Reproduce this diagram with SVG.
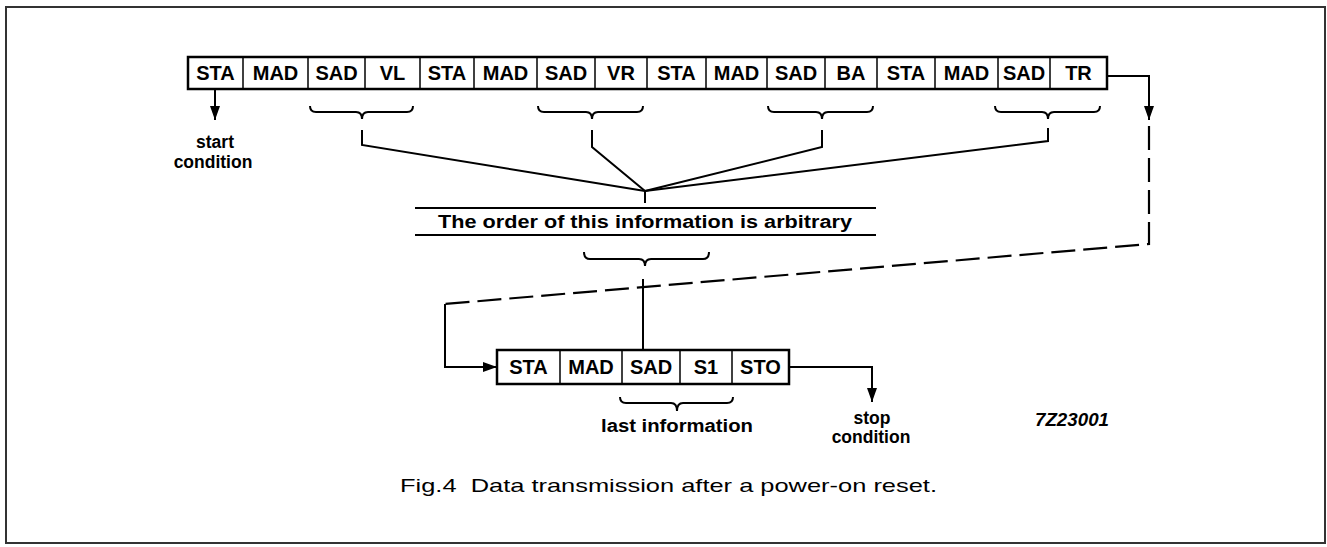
<svg xmlns="http://www.w3.org/2000/svg" width="1327" height="547" viewBox="0 0 1327 547">
<defs>
<style>
.frame{fill:none;stroke:#333;stroke-width:2}
.box{fill:#fff;stroke:#000;stroke-width:2.5}
.div{stroke:#000;stroke-width:1.5}
.cell{font-family:"Liberation Sans",Arial,sans-serif;font-weight:bold;font-size:20px;text-anchor:middle;fill:#000}
.lbl{font-family:"Liberation Sans",Arial,sans-serif;font-weight:bold;font-size:17.5px;text-anchor:middle;fill:#000}
.ln{fill:none;stroke:#000;stroke-width:2}
.dash{fill:none;stroke:#000;stroke-width:2.2;stroke-dasharray:24 8}
.cap{font-family:"Liberation Sans",Arial,sans-serif;font-size:19px;fill:#000}
</style>
<marker id="ahL" viewBox="0 0 14 10" refX="14" refY="5" markerWidth="14" markerHeight="10" markerUnits="userSpaceOnUse" orient="auto">
<path d="M0,0 L14,5 L0,10 z" fill="#000"/>
</marker>
</defs>
<rect class="frame" x="6" y="7" width="1319" height="536"/>

<g id="top-sequence">
<rect class="box" x="188" y="57" width="919" height="32"/>
<g class="div">
<line x1="243" y1="57" x2="243" y2="89"/><line x1="308" y1="57" x2="308" y2="89"/>
<line x1="365" y1="57" x2="365" y2="89"/><line x1="420" y1="57" x2="420" y2="89"/>
<line x1="474" y1="57" x2="474" y2="89"/><line x1="537" y1="57" x2="537" y2="89"/>
<line x1="595" y1="57" x2="595" y2="89"/><line x1="647" y1="57" x2="647" y2="89"/>
<line x1="706" y1="57" x2="706" y2="89"/><line x1="767" y1="57" x2="767" y2="89"/>
<line x1="825" y1="57" x2="825" y2="89"/><line x1="877" y1="57" x2="877" y2="89"/>
<line x1="935" y1="57" x2="935" y2="89"/><line x1="998" y1="57" x2="998" y2="89"/>
<line x1="1050" y1="57" x2="1050" y2="89"/>
</g>
<text class="cell" x="215.5" y="80">STA</text>
<text class="cell" x="275.5" y="80">MAD</text>
<text class="cell" x="336.5" y="80">SAD</text>
<text class="cell" x="392.5" y="80">VL</text>
<text class="cell" x="447" y="80">STA</text>
<text class="cell" x="505.5" y="80">MAD</text>
<text class="cell" x="566" y="80">SAD</text>
<text class="cell" x="621" y="80">VR</text>
<text class="cell" x="676.5" y="80">STA</text>
<text class="cell" x="736.5" y="80">MAD</text>
<text class="cell" x="796" y="80">SAD</text>
<text class="cell" x="851" y="80">BA</text>
<text class="cell" x="906" y="80">STA</text>
<text class="cell" x="966.5" y="80">MAD</text>
<text class="cell" x="1024" y="80">SAD</text>
<text class="cell" x="1078.5" y="80">TR</text>
</g>

<g id="bottom-sequence">
<rect class="box" x="497" y="350" width="292" height="34"/>
<g class="div">
<line x1="560" y1="350" x2="560" y2="384"/><line x1="622" y1="350" x2="622" y2="384"/>
<line x1="680" y1="350" x2="680" y2="384"/><line x1="732" y1="350" x2="732" y2="384"/>
</g>
<text class="cell" x="528.5" y="374">STA</text>
<text class="cell" x="591" y="374">MAD</text>
<text class="cell" x="651" y="374">SAD</text>
<text class="cell" x="706" y="374">S1</text>
<text class="cell" x="760.5" y="374">STO</text>
</g>

<g id="braces" class="ln">
<path d="M310,106 q0,6 6,6 H356 q6,0 6,7 q0,-7 6,-7 H407 q6,0 6,-6"/>
<path d="M538,106 q0,6 6,6 H586 q6,0 6,7 q0,-7 6,-7 H637 q6,0 6,-6"/>
<path d="M768,106 q0,6 6,6 H816 q6,0 6,7 q0,-7 6,-7 H867 q6,0 6,-6"/>
<path d="M995,106 q0,6 6,6 H1042 q6,0 6,7 q0,-7 6,-7 H1094 q6,0 6,-6"/>
<path d="M584,252 q0,7 6,7 H639 q6,0 6,7 q0,-7 6,-7 H703 q6,0 6,-7"/>
<path d="M620,397 q0,6 6,6 H671 q6,0 6,8 q0,-8 6,-8 H727 q6,0 6,-6"/>
</g>

<g id="order-label">
<line class="ln" x1="415" y1="208" x2="876" y2="208"/>
<line class="ln" x1="415" y1="235" x2="876" y2="235"/>
<text class="lbl" x="645" y="228" font-size="18" textLength="414" lengthAdjust="spacingAndGlyphs">The order of this information is arbitrary</text>
</g>

<g id="labels">
<text class="lbl" x="215" y="148">start</text>
<text class="lbl" x="213" y="168">condition</text>
<text class="lbl" x="677" y="432" textLength="152" lengthAdjust="spacingAndGlyphs">last information</text>
<text class="lbl" x="872" y="424">stop</text>
<text class="lbl" x="871" y="443">condition</text>
<text class="lbl" x="1072" y="426" font-style="italic" textLength="74" lengthAdjust="spacingAndGlyphs">7Z23001</text>
<text class="cap" x="400" y="492" xml:space="preserve" textLength="537" lengthAdjust="spacingAndGlyphs">Fig.4  Data transmission after a power-on reset.</text>
</g>

<g id="connectors">
<line class="ln" x1="215" y1="90" x2="215" y2="120" marker-end="url(#ahL)"/>
<polyline class="ln" points="362,130 362,145 645,191"/>
<polyline class="ln" points="592,130 592,147 645,191"/>
<polyline class="ln" points="822,130 822,147 645,191"/>
<polyline class="ln" points="1048,128 1048,141 645,191"/>
<line class="ln" x1="645" y1="191" x2="645" y2="203"/>
<line class="ln" x1="643" y1="279" x2="643" y2="350"/>
<polyline class="ln" points="1107,76 1149,76 1149,120" marker-end="url(#ahL)"/>
<polyline class="dash" points="1149,126 1149,244 445,304"/>
<polyline class="ln" points="445,304 445,367 497,367" marker-end="url(#ahL)"/>
<polyline class="ln" points="789,367 872,367 872,402" marker-end="url(#ahL)"/>
</g>
</svg>
